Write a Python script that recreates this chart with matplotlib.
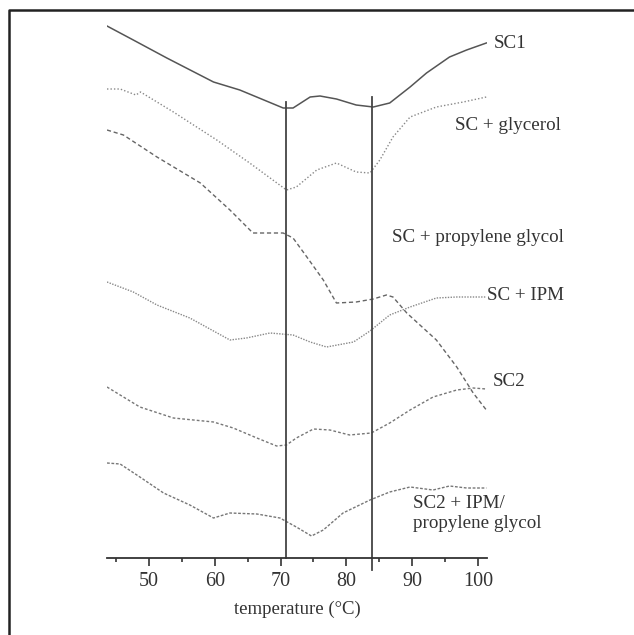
import matplotlib
matplotlib.use('Agg')
import matplotlib.pyplot as plt
from matplotlib.lines import Line2D

plt.rcParams['font.family'] = ['Liberation Serif', 'DejaVu Serif']

# DSC traces: temperature (°C) and height above the axis (arbitrary units)
sc1_t = [43.6, 47.6, 52.7, 59.8, 63.8, 70.4, 71.9, 74.5, 76.0, 78.5, 81.5, 84.1, 86.6, 89.7, 92.2, 95.7, 98.3, 101.3]
sc1_h = [532, 518, 500, 476, 468, 450, 450, 461, 462, 459, 453, 451, 455, 471, 485, 501, 508, 515]

gly_t = [43.6, 45.6, 48.0, 48.7, 53.7, 60.3, 65.3, 70.9, 72.4, 75.5, 78.5, 81.5, 83.6, 85.1, 87.1, 89.7, 93.7, 97.8, 101.3]
gly_h = [469, 469, 463, 466, 446, 418, 395, 368, 371, 388, 395, 386, 385, 398, 421, 441, 451, 456, 461]

pg_t = [43.6, 46.1, 51.2, 57.8, 62.3, 65.8, 70.4, 71.9, 74.0, 76.5, 78.5, 81.5, 84.1, 86.1, 87.1, 89.2, 93.7, 96.8, 99.3, 101.3]
pg_h = [428, 423, 401, 375, 348, 325, 325, 320, 301, 278, 255, 256, 259, 263, 261, 245, 218, 191, 165, 148]

ipm_t = [43.6, 47.6, 51.2, 56.2, 62.3, 64.8, 68.4, 71.9, 74.5, 77.0, 81.1, 83.6, 86.6, 89.7, 93.7, 96.8, 101.3]
ipm_h = [276, 266, 253, 240, 218, 220, 225, 223, 216, 211, 216, 227, 243, 251, 260, 261, 261]

sc2_t = [43.6, 48.6, 53.7, 59.8, 62.8, 66.4, 69.4, 70.9, 72.4, 75.0, 77.5, 80.5, 83.8, 86.6, 89.7, 93.2, 96.8, 99.3, 101.3]
sc2_h = [171, 151, 140, 136, 130, 120, 112, 113, 120, 129, 128, 123, 125, 135, 148, 161, 168, 170, 169]

mix_t = [43.6, 45.6, 48.6, 52.2, 56.2, 59.8, 62.3, 66.4, 69.9, 72.4, 74.7, 76.5, 79.5, 83.6, 86.6, 89.7, 93.2, 95.7, 98.3, 101.3]
mix_h = [95, 94, 81, 65, 53, 40, 45, 44, 40, 31, 22, 28, 45, 58, 66, 71, 68, 72, 70, 70]

transitions = [70.9, 83.9]
major_ticks = [50, 60, 70, 80, 90, 100]
minor_ticks = [45, 55, 65, 75, 85, 95]

fig = plt.figure(figsize=(6.34, 6.35), dpi=100)
ax = fig.add_axes([107 / 634, 77 / 635, 380 / 634, 548 / 635])
ax.set_xlim(43.6, 101.4)
ax.set_ylim(0, 548)

ax.plot(sc1_t, sc1_h, color='#555555', lw=1.1, linestyle='-')
ax.plot(gly_t, gly_h, color='#888888', lw=1.0, linestyle=(0, (1, 1.5)))
ax.plot(pg_t, pg_h, color='#666666', lw=1.0, linestyle=(0, (3, 2)))
ax.plot(ipm_t, ipm_h, color='#888888', lw=1.0, linestyle=(0, (1, 1)))
ax.plot(sc2_t, sc2_h, color='#777777', lw=1.0, linestyle=(0, (2, 1.5)))
ax.plot(mix_t, mix_h, color='#777777', lw=1.0, linestyle=(0, (2, 1.2)))

# transition markers
ax.plot([transitions[0]] * 2, [456, 0], color='#444444', lw=1.3, clip_on=False)
ax.plot([transitions[1]] * 2, [461, -12], color='#444444', lw=1.3, clip_on=False)

labels = [
    (102.5, 514, 'SC1'),
    (96.5, 432, 'SC + glycerol'),
    (87.0, 321, 'SC + propylene glycol'),
    (101.4, 262, 'SC + IPM'),
    (102.2, 176, 'SC2'),
    (90.2, 55, 'SC2 + IPM/'),
    (90.2, 34, 'propylene glycol'),
]
for x, y, s in labels:
    ax.text(x, y, s, fontsize=13.7, color='#333333', va='center', ha='left', clip_on=False)

for side in ['left', 'right', 'top']:
    ax.spines[side].set_visible(False)
ax.spines['bottom'].set_color('#333333')
ax.spines['bottom'].set_linewidth(1.3)
ax.set_yticks([])
ax.set_xticks(major_ticks)
ax.set_xticks(minor_ticks, minor=True)
ax.tick_params(axis='x', which='major', direction='out', length=6, width=1.2, color='#333333',
               labelsize=14.5, labelcolor='#333333', pad=4)
ax.tick_params(axis='x', which='minor', direction='out', length=3, width=1.2, color='#333333')
ax.set_xlabel('temperature (°C)', fontsize=13.5, color='#333333', labelpad=7)

# outer frame (only top and left edges show in the picture)
fig.add_artist(Line2D([9 / 634, 9 / 634, 1.0], [0.0, 1 - 10 / 635, 1 - 10 / 635],
                      transform=fig.transFigure, color='#222222', lw=1.8))

fig.savefig('out.png', dpi=100)
